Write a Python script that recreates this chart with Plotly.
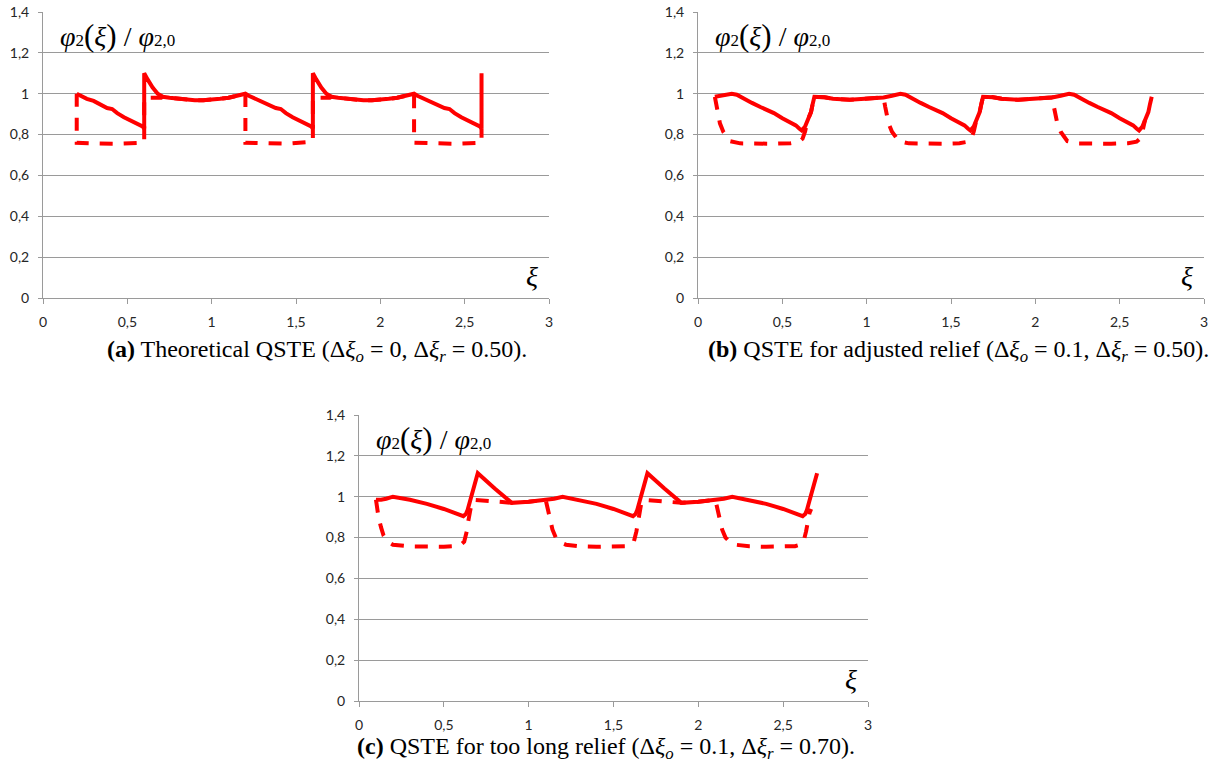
import plotly.graph_objects as go

W, H = 1217, 773

# ---------------- data ----------------
y_ticks = [0, 0.2, 0.4, 0.6, 0.8, 1.0, 1.2, 1.4]
y_tick_labels = ["0", "0,2", "0,4", "0,6", "0,8", "1", "1,2", "1,4"]
x_ticks = [0, 0.5, 1.0, 1.5, 2.0, 2.5, 3.0]
x_tick_labels = ["0", "0,5", "1", "1,5", "2", "2,5", "3"]

# (a) theoretical QSTE
a_solid_x = [0.20, 0.22, 0.26, 0.30, 0.34, 0.38, 0.41, 0.44, 0.48, 0.52, 0.56, 0.59, 0.60,
             0.60, 0.62, 0.65, 0.68, 0.71, 0.75, 0.80, 0.85, 0.90, 0.95, 1.00, 1.05, 1.10, 1.15, 1.20,
             1.22, 1.26, 1.30, 1.34, 1.38, 1.41, 1.44, 1.48, 1.52, 1.56, 1.59, 1.60,
             1.60, 1.62, 1.65, 1.68, 1.71, 1.75, 1.80, 1.85, 1.90, 1.95, 2.00, 2.05, 2.10, 2.15, 2.20,
             2.22, 2.26, 2.30, 2.34, 2.38, 2.41, 2.44, 2.48, 2.52, 2.56, 2.59, 2.60,
             2.60]
a_solid_y = [1.00, 0.99, 0.975, 0.965, 0.945, 0.93, 0.925, 0.905, 0.885, 0.87, 0.855, 0.84, 0.83,
             1.10, 1.07, 1.03, 1.00, 0.985, 0.98, 0.975, 0.97, 0.968, 0.968, 0.97, 0.975, 0.98, 0.988, 1.00,
             0.99, 0.975, 0.965, 0.945, 0.93, 0.925, 0.905, 0.885, 0.87, 0.855, 0.84, 0.83,
             1.10, 1.07, 1.03, 1.00, 0.985, 0.98, 0.975, 0.97, 0.968, 0.968, 0.97, 0.975, 0.98, 0.988, 1.00,
             0.99, 0.975, 0.965, 0.945, 0.93, 0.925, 0.905, 0.885, 0.87, 0.855, 0.84, 0.83,
             1.10]
a_dash_x = [0.20, 0.20, 0.30, 0.45, 0.60, 0.60, 0.70,
            0.71, 0.75, 0.80, 0.85, 0.90, 0.95, 1.00, 1.05, 1.10, 1.15, 1.20,
            1.20, 1.30, 1.45, 1.60, 1.60, 1.70,
            1.71, 1.75, 1.80, 1.85, 1.90, 1.95, 2.00, 2.05, 2.10, 2.15, 2.20,
            2.20, 2.30, 2.45, 2.60, 2.60]
a_dash_y = [1.00, 0.76, 0.757, 0.755, 0.76, 0.98, 0.98,
            0.985, 0.98, 0.975, 0.97, 0.968, 0.968, 0.97, 0.975, 0.98, 0.988, 1.00,
            0.76, 0.757, 0.755, 0.765, 0.98, 0.98,
            0.985, 0.98, 0.975, 0.97, 0.968, 0.968, 0.97, 0.975, 0.98, 0.988, 1.00,
            0.76, 0.757, 0.755, 0.76, 0.83]

# (b) adjusted relief
b_solid_x = [0.10, 0.13, 0.16, 0.20, 0.23, 0.27, 0.32, 0.37, 0.41, 0.45, 0.50, 0.55, 0.58, 0.60,
             0.615, 0.635, 0.65, 0.67, 0.68, 0.69, 0.75, 0.80, 0.90, 1.00, 1.05, 1.10, 1.15, 1.20,
             1.23, 1.27, 1.32, 1.37, 1.41, 1.45, 1.50, 1.55, 1.58, 1.60,
             1.615, 1.635, 1.65, 1.67, 1.68, 1.69, 1.75, 1.80, 1.90, 2.00, 2.05, 2.10, 2.15, 2.20,
             2.23, 2.27, 2.32, 2.37, 2.41, 2.45, 2.50, 2.55, 2.58, 2.60,
             2.615, 2.635, 2.65, 2.67, 2.68, 2.69]
b_solid_y = [0.985, 0.99, 0.99, 1.00, 0.995, 0.975, 0.955, 0.935, 0.92, 0.905, 0.88, 0.86, 0.845, 0.83,
             0.82, 0.84, 0.87, 0.91, 0.95, 0.985, 0.983, 0.975, 0.97, 0.975, 0.978, 0.982, 0.99, 1.00,
             0.995, 0.975, 0.955, 0.935, 0.92, 0.905, 0.88, 0.86, 0.845, 0.83,
             0.82, 0.84, 0.87, 0.91, 0.95, 0.985, 0.983, 0.975, 0.97, 0.975, 0.978, 0.982, 0.99, 1.00,
             0.995, 0.975, 0.955, 0.935, 0.92, 0.905, 0.88, 0.86, 0.845, 0.83,
             0.82, 0.84, 0.87, 0.91, 0.95, 0.985]
b_dash_x = [0.10, 0.11, 0.13, 0.15, 0.19, 0.25, 0.35, 0.45, 0.55, 0.60, 0.62, 0.635, 0.65,
            0.67, 0.68, 0.69, 0.75, 0.80, 0.90, 1.00, 1.05, 1.10,
            1.11, 1.13, 1.15, 1.19, 1.25, 1.35, 1.45, 1.55, 1.60, 1.62, 1.635, 1.65,
            1.67, 1.68, 1.69, 1.75, 1.80, 1.90, 2.00, 2.05, 2.10,
            2.11, 2.13, 2.15, 2.19, 2.25, 2.35, 2.45, 2.55, 2.60, 2.62, 2.635, 2.65]
b_dash_y = [0.985, 0.936, 0.855, 0.814, 0.768, 0.757, 0.755, 0.755, 0.758, 0.765, 0.78, 0.815, 0.87,
            0.91, 0.95, 0.985, 0.983, 0.975, 0.97, 0.975, 0.978, 0.982,
            0.936, 0.855, 0.814, 0.768, 0.757, 0.755, 0.755, 0.758, 0.765, 0.78, 0.815, 0.87,
            0.91, 0.95, 0.985, 0.983, 0.975, 0.97, 0.975, 0.978, 0.982,
            0.936, 0.855, 0.814, 0.768, 0.757, 0.755, 0.755, 0.758, 0.765, 0.78, 0.815, 0.87]

# (c) too long relief
c_solid_x = [0.10, 0.13, 0.16, 0.20, 0.30, 0.40, 0.50, 0.59, 0.615, 0.63, 0.64, 0.655, 0.668, 0.685, 0.70,
             0.80, 0.90, 1.00, 1.10, 1.15, 1.20,
             1.30, 1.40, 1.50, 1.59, 1.615, 1.63, 1.64, 1.655, 1.668, 1.685, 1.70,
             1.80, 1.90, 2.00, 2.10, 2.15, 2.20,
             2.30, 2.40, 2.50, 2.59, 2.615, 2.63, 2.64, 2.655, 2.668, 2.685, 2.70]
c_solid_y = [0.985, 0.985, 0.99, 1.00, 0.985, 0.965, 0.94, 0.915, 0.905, 0.915, 0.935, 0.98, 1.02, 1.07, 1.115,
             1.04, 0.97, 0.975, 0.985, 0.99, 1.00,
             0.985, 0.965, 0.94, 0.915, 0.905, 0.915, 0.935, 0.98, 1.02, 1.07, 1.115,
             1.04, 0.97, 0.975, 0.985, 0.99, 1.00,
             0.985, 0.965, 0.94, 0.915, 0.905, 0.915, 0.935, 0.98, 1.02, 1.07, 1.115]
c_dash_x = [0.10, 0.105, 0.115, 0.13, 0.145, 0.17, 0.20, 0.30, 0.40, 0.50, 0.57, 0.60, 0.62, 0.635, 0.645,
            0.655, 0.665, 0.68, 0.75, 0.80, 0.90, 1.00, 1.10,
            1.11, 1.125, 1.14, 1.16, 1.19, 1.22, 1.30, 1.40, 1.50, 1.57, 1.60, 1.62, 1.635, 1.645,
            1.655, 1.665, 1.68, 1.75, 1.80, 1.90, 2.00, 2.10,
            2.11, 2.125, 2.14, 2.16, 2.19, 2.22, 2.30, 2.40, 2.50, 2.57, 2.60, 2.62, 2.635, 2.645,
            2.655, 2.665]
c_dash_y = [0.985, 0.95, 0.90, 0.85, 0.81, 0.78, 0.765, 0.757, 0.755, 0.755, 0.758, 0.765, 0.78, 0.83, 0.885,
            0.94, 0.975, 0.985, 0.98, 0.975, 0.97, 0.975, 0.985,
            0.95, 0.89, 0.84, 0.80, 0.775, 0.765, 0.757, 0.755, 0.755, 0.758, 0.765, 0.78, 0.83, 0.885,
            0.94, 0.975, 0.985, 0.98, 0.975, 0.97, 0.975, 0.985,
            0.95, 0.89, 0.84, 0.80, 0.775, 0.765, 0.757, 0.755, 0.755, 0.758, 0.765, 0.78, 0.83, 0.885,
            0.92, 0.94]

captions = [
    "<b>(a)</b> Theoretical QSTE (Δ<i>ξ<sub>o</sub></i> = 0, Δ<i>ξ<sub>r</sub></i> = 0.50).",
    "<b>(b)</b> QSTE for adjusted relief (Δ<i>ξ<sub>o</sub></i> = 0.1, Δ<i>ξ<sub>r</sub></i> = 0.50).",
    "<b>(c)</b> QSTE for too long relief (Δ<i>ξ<sub>o</sub></i> = 0.1, Δ<i>ξ<sub>r</sub></i> = 0.70).",
]

# ---------------- layout (pixel boxes of each plot area) ----------------
panels = [
    # (x_left, x_right, y_top, y_bottom) in page pixels
    (43, 549, 12, 298),
    (698, 1204, 12, 298),
    (359, 868, 415, 701),
]
caption_pos = [(317, 351), (958, 351), (606, 748)]
series = [
    (a_solid_x, a_solid_y, a_dash_x, a_dash_y),
    (b_solid_x, b_solid_y, b_dash_x, b_dash_y),
    (c_solid_x, c_solid_y, c_dash_x, c_dash_y),
]


def fx(px):
    return px / W


def fy(py):
    return 1 - py / H


RED = "#ff0000"
GRID = "#9a9a9a"
SERIF = "Liberation Serif"
TICKFONT = dict(family="Lato", size=14, color="#262626")

Y_TITLE = ("<i>φ</i><span style='font-size:17px'>2</span>"
           "<span style='font-size:31px'>(</span><i>ξ</i><span style='font-size:31px'>)</span>"
           " / <i>φ</i><span style='font-size:17px'>2,0</span>")

fig = go.Figure()
annotations = []
layout_axes = {}

for i, ((xl, xr, yt, yb), (sx, sy, dx, dy)) in enumerate(zip(panels, series)):
    n = "" if i == 0 else str(i + 1)
    xa, ya = "x" + n, "y" + n
    fig.add_trace(go.Scatter(x=dx, y=dy, mode="lines", xaxis=xa, yaxis=ya,
                             line=dict(color=RED, width=4, dash="13px,11px"),
                             showlegend=False, hoverinfo="skip"))
    fig.add_trace(go.Scatter(x=sx, y=sy, mode="lines", xaxis=xa, yaxis=ya,
                             line=dict(color=RED, width=4),
                             showlegend=False, hoverinfo="skip"))
    layout_axes["xaxis" + n] = dict(
        domain=[fx(xl), fx(xr)], range=[0, 3], anchor=ya, automargin=False,
        tickvals=x_ticks, ticktext=x_tick_labels, tickfont=TICKFONT,
        showgrid=False, zeroline=False, showline=True, linecolor=GRID, linewidth=1,
        ticks="outside", ticklen=5, tickcolor=GRID, tickwidth=1, ticklabelstandoff=6,
    )
    layout_axes["yaxis" + n] = dict(
        domain=[fy(yb), fy(yt)], range=[0, 1.4], anchor=xa, automargin=False,
        tickvals=y_ticks, ticktext=y_tick_labels, tickfont=TICKFONT,
        showgrid=True, gridcolor=GRID, gridwidth=1, zeroline=False,
        showline=True, linecolor=GRID, linewidth=1,
        ticks="outside", ticklen=4, tickcolor=GRID, tickwidth=1, ticklabelstandoff=6,
    )
    # y-axis title inside the plot area
    annotations.append(dict(
        x=fx(xl + 15), y=fy(yt + 23), xref="paper", yref="paper",
        xanchor="left", yanchor="middle", showarrow=False,
        text=Y_TITLE, font=dict(family=SERIF, size=28, color="#000000"),
    ))
    # x-axis symbol at lower right
    annotations.append(dict(
        x=fx(xr - 17), y=fy(yb - 22), xref="paper", yref="paper",
        xanchor="center", yanchor="middle", showarrow=False,
        text="<i>ξ</i>", font=dict(family=SERIF, size=28, color="#000000"),
    ))
    # caption below the panel
    cx, cy = caption_pos[i]
    annotations.append(dict(
        x=fx(cx), y=fy(cy), xref="paper", yref="paper",
        xanchor="center", yanchor="middle", showarrow=False,
        text=captions[i], font=dict(family=SERIF, size=24, color="#000000"),
    ))

fig.update_layout(
    width=W, height=H, margin=dict(l=0, r=0, t=0, b=0),
    paper_bgcolor="white", plot_bgcolor="white",
    annotations=annotations, **layout_axes,
)

fig.write_html("out.html")
